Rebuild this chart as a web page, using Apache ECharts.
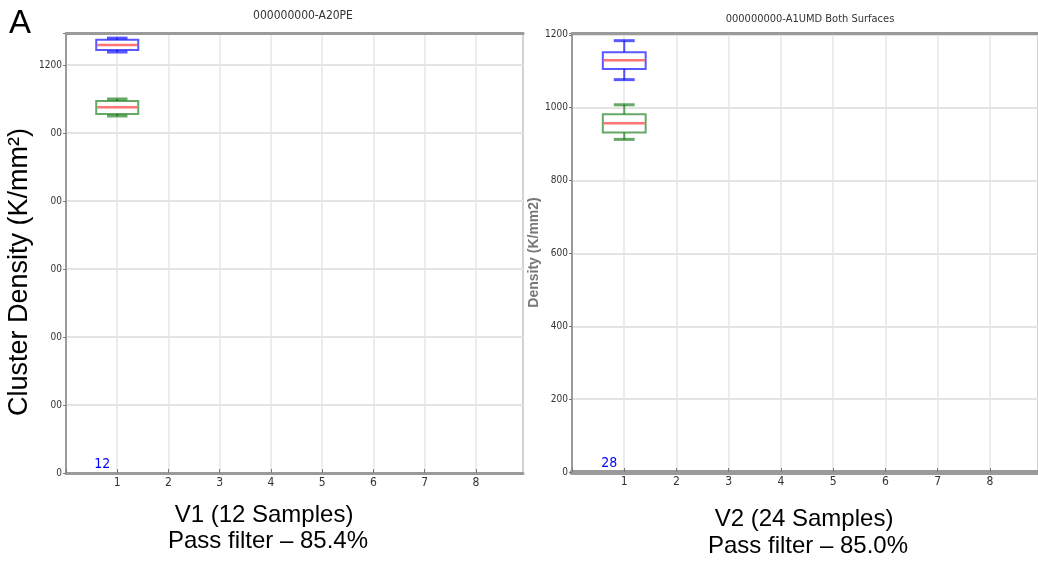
<!DOCTYPE html>
<html><head><meta charset="utf-8">
<script src="https://cdn.jsdelivr.net/npm/echarts@6/dist/echarts.min.js"></script>
<style>html,body{margin:0;padding:0;background:#fff;overflow:hidden}#c{width:1038px;height:562px}</style>
</head><body><div id="c"></div>
<script>
// ---- data ----
const xTickLabels = ['1','2','3','4','5','6','7','8'];
const yTickValues = [0,200,400,600,800,1000,1200];
const yTickLabelsV1 = ['0','00','00','00','00','00','1200'];
const yTickLabelsV2 = ['0','200','400','600','800','1000','1200'];
// [x, min, q1, median, q3, max]
const v1Blue  = [1, 1238, 1244, 1259, 1274, 1279];
const v1Green = [1, 1050, 1056, 1076, 1094, 1100];
const v2Blue  = [1, 1077, 1106, 1130, 1152, 1184];
const v2Green = [1,  913,  932,  957,  982, 1008];
const sampleCountV1 = ['12'];
const sampleCountV2 = ['28'];
const panelTitles = ['000000000-A20PE', '000000000-A1UMD Both Surfaces'];
const captionsV1 = ['V1 (12 Samples)', 'Pass filter \u2013 85.4%'];
const captionsV2 = ['V2 (24 Samples)', 'Pass filter \u2013 85.0%'];

const NARROW = "'Liberation Sans Narrow','DejaVu Sans Condensed','Liberation Sans',sans-serif";
const SANS = "'Liberation Sans',Arial,sans-serif";

function boxRender(color){
  return function(params, api){
    const x = api.value(0);
    const pMin = api.coord([x, api.value(1)]);
    const pQ1  = api.coord([x, api.value(2)]);
    const pMd  = api.coord([x, api.value(3)]);
    const pQ3  = api.coord([x, api.value(4)]);
    const pMax = api.coord([x, api.value(5)]);
    const bw = api.size([0.82, 0])[0];
    const cw = api.size([0.4, 0])[0];
    const cx = pMd[0];
    const ls = {stroke: color, lineWidth: 2};
    return {type:'group', children:[
      {type:'line', shape:{x1:cx,y1:pMax[1],x2:cx,y2:pQ3[1]}, style:ls},
      {type:'line', shape:{x1:cx,y1:pQ1[1],x2:cx,y2:pMin[1]}, style:ls},
      {type:'line', shape:{x1:cx-cw/2,y1:pMax[1],x2:cx+cw/2,y2:pMax[1]}, style:{stroke:color,lineWidth:3}},
      {type:'line', shape:{x1:cx-cw/2,y1:pMin[1],x2:cx+cw/2,y2:pMin[1]}, style:{stroke:color,lineWidth:3}},
      {type:'rect', shape:{x:cx-bw/2,y:pQ3[1],width:bw,height:pQ1[1]-pQ3[1]}, style:{fill:'rgba(255,255,255,0.85)', stroke:color, lineWidth:2}},
      {type:'line', shape:{x1:cx-bw/2+1,y1:pMd[1],x2:cx+bw/2-1,y2:pMd[1]}, style:{stroke:'rgba(255,70,70,0.75)', lineWidth:2.5}}
    ]};
  };
}
function countRender(params, api){
  const p = api.coord([api.value(0), 0]);
  return {type:'text', x:p[0]-15, y:p[1]-2, style:{text: api.value(1), fill:'#0000ff', font:'14px '+NARROW, textAlign:'center', textVerticalAlign:'bottom'}};
}
function yFmt(labels){ return v => { const i = yTickValues.indexOf(v); return i >= 0 ? labels[i] : ''; }; }
function xFmt(v){ return (Number.isInteger(v) && v >= 1 && v <= xTickLabels.length) ? xTickLabels[v-1] : ''; }

function xAxisCfg(gi, lw){
  return {type:'value', gridIndex:gi, min:0, max:8.92, interval:1,
    axisLine:{show:true, lineStyle:{color:'#9a9a9a', width:lw}},
    axisTick:{show:true, inside:true, length:4, lineStyle:{color:'#777'}},
    axisLabel:{formatter:xFmt, color:'#333', fontFamily:NARROW, fontSize:12, margin:4, showMaxLabel:false},
    splitLine:{show:true, lineStyle:{color:'#e6e6e6', width:1.5}}};
}
function topAxisCfg(gi){
  return {type:'value', gridIndex:gi, position:'top', min:0, max:8.92, z:10,
    axisLine:{show:true, lineStyle:{color:'#9a9a9a', width:3}},
    axisTick:{show:false}, axisLabel:{show:false}, splitLine:{show:false}};
}
function yAxisCfg(gi, max, labels, extra){
  return Object.assign({type:'value', gridIndex:gi, min:0, max:max, interval:200,
    axisLine:{show:true, lineStyle:{color:'#9a9a9a', width:2}},
    axisTick:{show:true, length:3, lineStyle:{color:'#777'}},
    axisLabel:{formatter:yFmt(labels), color:'#333', fontFamily:NARROW, fontSize:10, margin:4},
    splitLine:{show:true, lineStyle:{color:'#e4e4e4', width:2}}}, extra||{});
}

const chart = echarts.init(document.getElementById('c'), null, {renderer:'canvas'});
chart.setOption({
  animation:false,
  backgroundColor:'#fff',
  title:[
    {text:panelTitles[0], left:298, top:5, textAlign:'center', textStyle:{fontFamily:NARROW, fontSize:12, fontWeight:'normal', color:'#333'}},
    {text:panelTitles[1], left:805, top:9, textAlign:'center', textStyle:{fontFamily:NARROW, fontSize:11, fontWeight:'normal', color:'#333'}}
  ],
  grid:[
    {left:66, top:33, right:515, bottom:89, show:true, borderColor:'#9a9a9a', borderWidth:2, backgroundColor:'transparent'},
    {left:572, top:33, right:-10, bottom:90, show:true, borderColor:'#9a9a9a', borderWidth:2, backgroundColor:'transparent'}
  ],
  xAxis:[xAxisCfg(0, 3), xAxisCfg(1, 5), topAxisCfg(0), topAxisCfg(1)],
  yAxis:[
    yAxisCfg(0, 1294, yTickLabelsV1),
    yAxisCfg(1, 1205, yTickLabelsV2, {name:'Density (K/mm2)', nameLocation:'middle', nameGap:12,
      nameTextStyle:{fontFamily:SANS, fontSize:14, fontWeight:'bold', color:'#777'}})
  ],
  series:[
    {type:'custom', xAxisIndex:0, yAxisIndex:0, renderItem:boxRender('rgba(0,0,255,0.65)'), data:[v1Blue], clip:false},
    {type:'custom', xAxisIndex:0, yAxisIndex:0, renderItem:boxRender('rgba(0,110,0,0.6)'), data:[v1Green], clip:false},
    {type:'custom', xAxisIndex:1, yAxisIndex:1, renderItem:boxRender('rgba(0,0,255,0.65)'), data:[v2Blue], clip:false},
    {type:'custom', xAxisIndex:1, yAxisIndex:1, renderItem:boxRender('rgba(0,110,0,0.6)'), data:[v2Green], clip:false},
    {type:'custom', xAxisIndex:0, yAxisIndex:0, renderItem:countRender, data:[[1, sampleCountV1[0]]], clip:false},
    {type:'custom', xAxisIndex:1, yAxisIndex:1, renderItem:countRender, data:[[1, sampleCountV2[0]]], clip:false}
  ],
  graphic:[
    {type:'text', left:9, top:7, style:{text:'A', font:'33px '+SANS, fill:'#000'}},
    {type:'text', x:20, y:272, rotation:Math.PI/2, style:{text:'Cluster Density (K/mm\u00b2)', font:'27px '+SANS, fill:'#000', textAlign:'center', textVerticalAlign:'middle'}},
    {type:'text', x:264, y:515, style:{text:captionsV1[0], font:'24px '+SANS, fill:'#000', textAlign:'center', textVerticalAlign:'middle'}},
    {type:'text', x:268, y:541, style:{text:captionsV1[1], font:'24px '+SANS, fill:'#000', textAlign:'center', textVerticalAlign:'middle'}},
    {type:'text', x:804, y:519, style:{text:captionsV2[0], font:'24px '+SANS, fill:'#000', textAlign:'center', textVerticalAlign:'middle'}},
    {type:'text', x:808, y:546, style:{text:captionsV2[1], font:'24px '+SANS, fill:'#000', textAlign:'center', textVerticalAlign:'middle'}}
  ]
});
</script></body></html>
